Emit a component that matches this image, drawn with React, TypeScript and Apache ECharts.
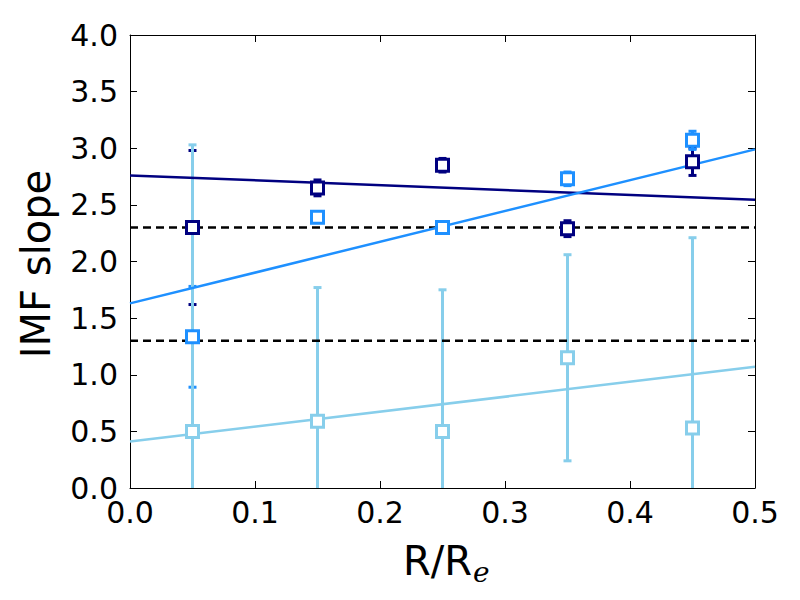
import React, { useEffect, useRef } from "react";
import * as echarts from "echarts";

const xPositions = [0.05, 0.15, 0.25, 0.35, 0.45];

const navyValues = [2.3, 2.65, 2.85, 2.29, 2.88];
const navyErrors = [0.68, 0.07, 0.06, 0.07, 0.12];

const dodgerValues = [1.335, 2.39, 2.3, 2.73, 3.07];
const dodgerErrors = [0.445, 0.04, 0.03, 0.06, 0.08];

const skyValues = [0.5, 0.59, 0.5, 1.15, 0.53];
const skyErrors = [2.53, 1.18, 1.25, 0.91, 1.68];

const fitX = [0, 0.5];
const navyFit = [2.76, 2.545];
const dodgerFit = [1.63, 2.99];
const skyFit = [0.41, 1.07];

const refLevels = [2.3, 1.3];

const xTicks = [0, 0.1, 0.2, 0.3, 0.4, 0.5];
const yTicks = [0, 0.5, 1, 1.5, 2, 2.5, 3, 3.5, 4];

const NAVY = "#000080";
const DODGER = "#1E90FF";
const SKY = "#87CEEB";

const FONT = "DejaVu Sans";

function errorSeries(values: number[], errors: number[], color: string) {
  return {
    type: "custom",
    clip: true,
    z: 1,
    encode: { x: 0, y: [1, 2] },
    data: xPositions.map((x, i) => [x, values[i] - errors[i], values[i] + errors[i]]),
    renderItem: (params: any, api: any) => {
      const x = api.value(0);
      const lo = api.coord([x, api.value(1)]);
      const hi = api.coord([x, api.value(2)]);
      const hw = 4;
      const st = { stroke: color, lineWidth: 3 };
      return {
        type: "group",
        children: [
          { type: "line", shape: { x1: lo[0], y1: lo[1], x2: hi[0], y2: hi[1] }, style: st },
          { type: "line", shape: { x1: lo[0] - hw, y1: lo[1], x2: lo[0] + hw, y2: lo[1] }, style: st },
          { type: "line", shape: { x1: hi[0] - hw, y1: hi[1], x2: hi[0] + hw, y2: hi[1] }, style: st },
        ],
      };
    },
  };
}

function markerSeries(values: number[], color: string) {
  return {
    type: "scatter",
    z: 5,
    symbol: "rect",
    symbolSize: 12,
    itemStyle: { color: "#ffffff", borderColor: color, borderWidth: 3, opacity: 1 },
    data: xPositions.map((x, i) => [x, values[i]]),
  };
}

function fitSeries(values: number[], color: string) {
  return {
    type: "line",
    z: 3,
    symbol: "none",
    lineStyle: { color, width: 2.5 },
    data: fitX.map((x, i) => [x, values[i]]),
  };
}

function refSeries(level: number) {
  return {
    type: "line",
    z: 2,
    symbol: "none",
    lineStyle: { color: "#000000", width: 2.5, type: [8, 5] },
    data: fitX.map((x) => [x, level]),
  };
}

const axisCommon = {
  axisLine: { show: true, onZero: false, lineStyle: { color: "#000", width: 1 } },
  axisTick: { show: true, inside: true, length: 7, lineStyle: { color: "#000", width: 1 } },
  splitLine: { show: false },
};

export default function App() {
  const ref = useRef<HTMLDivElement>(null);
  useEffect(() => {
    document.body.style.margin = "0";
    if (!ref.current) return;
    const chart = echarts.init(ref.current, undefined, { renderer: "svg" });
    const xMin = xTicks[0];
    const xMax = xTicks[xTicks.length - 1];
    const yMin = yTicks[0];
    const yMax = yTicks[yTicks.length - 1];
    chart.setOption({
      animation: false,
      backgroundColor: "#ffffff",
      grid: { left: 130, right: 45, top: 35, bottom: 112, containLabel: false },
      xAxis: [
        {
          type: "value",
          min: xMin,
          max: xMax,
          interval: 0.1,
          position: "bottom",
          ...axisCommon,
          axisLabel: {
            show: true,
            margin: 9,
            fontSize: 30,
            fontFamily: FONT,
            color: "#000",
            formatter: (v: number) => v.toFixed(1),
          },
        },
        {
          type: "value",
          min: xMin,
          max: xMax,
          interval: 0.1,
          position: "top",
          ...axisCommon,
          axisLabel: { show: false },
        },
      ],
      yAxis: [
        {
          type: "value",
          min: yMin,
          max: yMax,
          interval: 0.5,
          position: "left",
          ...axisCommon,
          axisLabel: {
            show: true,
            margin: 12,
            fontSize: 30,
            fontFamily: FONT,
            color: "#000",
            formatter: (v: number) => v.toFixed(1),
          },
        },
        {
          type: "value",
          min: yMin,
          max: yMax,
          interval: 0.5,
          position: "right",
          ...axisCommon,
          axisLabel: { show: false },
        },
      ],
      graphic: [
        {
          type: "text",
          x: 36,
          y: 264,
          rotation: Math.PI / 2,
          style: {
            text: "IMF slope",
            fontSize: 40,
            fontFamily: FONT,
            fill: "#000",
            align: "center",
            verticalAlign: "middle",
          },
        },
        {
          type: "text",
          x: 437.5,
          y: 561,
          style: {
            text: "R/R",
            fontSize: 40,
            fontFamily: FONT,
            fill: "#000",
            align: "center",
            verticalAlign: "middle",
          },
        },
        {
          type: "text",
          x: 473,
          y: 572,
          style: {
            text: "e",
            fontSize: 28,
            fontFamily: "DejaVu Serif",
            fontStyle: "italic",
            fill: "#000",
            align: "left",
            verticalAlign: "middle",
          },
        },
      ],
      series: [
        errorSeries(navyValues, navyErrors, NAVY),
        errorSeries(dodgerValues, dodgerErrors, DODGER),
        errorSeries(skyValues, skyErrors, SKY),
        refSeries(refLevels[0]),
        refSeries(refLevels[1]),
        fitSeries(navyFit, NAVY),
        fitSeries(dodgerFit, DODGER),
        fitSeries(skyFit, SKY),
        markerSeries(navyValues, NAVY),
        markerSeries(dodgerValues, DODGER),
        markerSeries(skyValues, SKY),
      ],
    });
    return () => chart.dispose();
  }, []);
  return <div ref={ref} style={{ width: 800, height: 600 }} />;
}
